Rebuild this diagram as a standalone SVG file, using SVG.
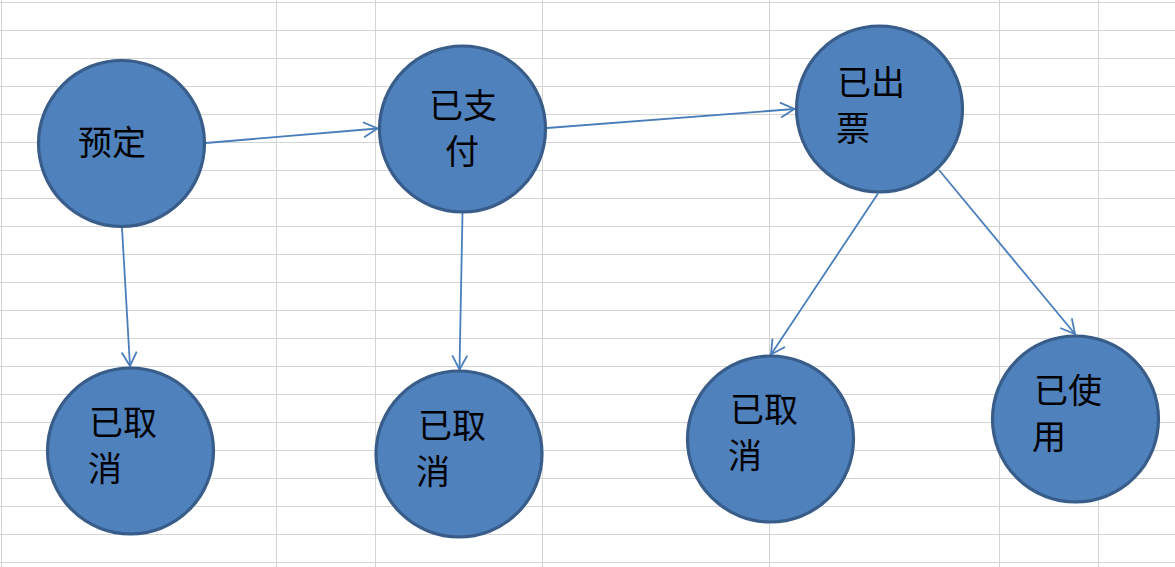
<svg xmlns="http://www.w3.org/2000/svg" width="1175" height="567" viewBox="0 0 1175 567">
<style>
.grid line{stroke:#D4D4D4;stroke-width:1}
.node circle{fill:#4F81BD;stroke:#385D8A;stroke-width:3.2}
.node text{font-family:"Noto Sans CJK SC","Noto Sans",sans-serif;font-size:34px;fill:#000}
.edges line{stroke:#4A7EBB;stroke-width:1.8;fill:none;marker-end:url(#arr)}
</style>
<defs>
<marker id="arr" markerUnits="userSpaceOnUse" markerWidth="20" markerHeight="20" viewBox="-16 -10 20 20" refX="0" refY="0" orient="auto">
<path d="M-14,-7.5 L0,0 L-14,7.5" fill="none" stroke="#4A7EBB" stroke-width="1.8"/>
</marker>
</defs>
<rect width="1175" height="567" fill="#FFFFFF"/>
<g class="grid">
<line x1="0" y1="2.5" x2="1175" y2="2.5"/>
<line x1="0" y1="30.5" x2="1175" y2="30.5"/>
<line x1="0" y1="58.5" x2="1175" y2="58.5"/>
<line x1="0" y1="86.5" x2="1175" y2="86.5"/>
<line x1="0" y1="114.5" x2="1175" y2="114.5"/>
<line x1="0" y1="142.5" x2="1175" y2="142.5"/>
<line x1="0" y1="170.5" x2="1175" y2="170.5"/>
<line x1="0" y1="198.5" x2="1175" y2="198.5"/>
<line x1="0" y1="226.5" x2="1175" y2="226.5"/>
<line x1="0" y1="254.5" x2="1175" y2="254.5"/>
<line x1="0" y1="282.5" x2="1175" y2="282.5"/>
<line x1="0" y1="310.5" x2="1175" y2="310.5"/>
<line x1="0" y1="338.5" x2="1175" y2="338.5"/>
<line x1="0" y1="366.5" x2="1175" y2="366.5"/>
<line x1="0" y1="394.5" x2="1175" y2="394.5"/>
<line x1="0" y1="422.5" x2="1175" y2="422.5"/>
<line x1="0" y1="450.5" x2="1175" y2="450.5"/>
<line x1="0" y1="478.5" x2="1175" y2="478.5"/>
<line x1="0" y1="506.5" x2="1175" y2="506.5"/>
<line x1="0" y1="534.5" x2="1175" y2="534.5"/>
<line x1="0" y1="562.5" x2="1175" y2="562.5"/>
<line x1="1.5" y1="0" x2="1.5" y2="567"/>
<line x1="276.5" y1="0" x2="276.5" y2="567"/>
<line x1="375.5" y1="0" x2="375.5" y2="567"/>
<line x1="542.5" y1="0" x2="542.5" y2="567"/>
<line x1="769.5" y1="0" x2="769.5" y2="567"/>
<line x1="999.5" y1="0" x2="999.5" y2="567"/>
<line x1="1098.5" y1="0" x2="1098.5" y2="567"/>
</g>
<g class="edges">
<line x1="206" y1="143" x2="377.5" y2="128.5"/>
<line x1="122" y1="228" x2="130" y2="366"/>
<line x1="462.5" y1="213" x2="459.5" y2="369.5"/>
<line x1="547" y1="128" x2="794.5" y2="109"/>
<line x1="878" y1="193.5" x2="771" y2="354.5"/>
<line x1="939" y1="170" x2="1075" y2="334"/>
</g>
<g id="n-yuding" class="node">
<circle cx="121.5" cy="143.5" r="83"/>
<text x="78" y="155">预定</text>
</g>
<g id="n-yizhifu" class="node">
<circle cx="462.5" cy="129" r="83"/>
<text x="429" y="118">已支</text>
<text x="445" y="164">付</text>
</g>
<g id="n-yichupiao" class="node">
<circle cx="879.5" cy="109" r="83"/>
<text x="837" y="95">已出</text>
<text x="836" y="141">票</text>
</g>
<g id="n-quxiao1" class="node">
<circle cx="130.5" cy="451" r="83"/>
<text x="89" y="435">已取</text>
<text x="88" y="481">消</text>
</g>
<g id="n-quxiao2" class="node">
<circle cx="459" cy="454" r="83"/>
<text x="418" y="438">已取</text>
<text x="416" y="484">消</text>
</g>
<g id="n-quxiao3" class="node">
<circle cx="770.5" cy="439" r="83"/>
<text x="730" y="422">已取</text>
<text x="728" y="468">消</text>
</g>
<g id="n-yishiyong" class="node">
<circle cx="1075.5" cy="419" r="83"/>
<text x="1034" y="403">已使</text>
<text x="1032" y="449">用</text>
</g>
</svg>
